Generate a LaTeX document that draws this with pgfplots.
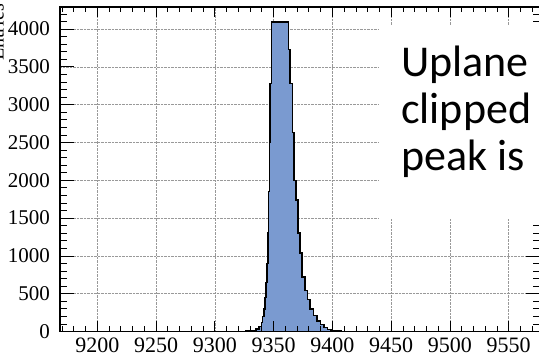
\documentclass[border=0pt]{standalone}
\usepackage{pgfplots}
\usepackage{pgfplotstable}
\pgfplotsset{compat=1.18}
\usepackage{fontspec}
\setmainfont{Liberation Serif}
\newfontfamily\calibri{Carlito}
\definecolor{histblue}{RGB}{122,154,208}
\pgfplotstableread{
x y
9318 0
9326 5
9331 15
9335 35
9337.5 70
9339.5 120
9340.8 200
9341.8 300
9342.6 450
9343.4 650
9344.4 900
9345.4 1300
9345.9 1850
9346.3 2500
9346.8 3280
9348.3 4095
9362.8 3730
9364.1 3280
9366.1 2630
9367.5 2000
9369 1740
9370.9 1300
9372.4 1040
9374.1 720
9376.6 540
9379 420
9381 300
9384 210
9387 140
9390 95
9393 55
9396 30
9399 14
9403 5
9408 0
}\hist
\begin{document}
\begin{tikzpicture}
\pgfplotsset{
  common/.style={
    at={(0,0)}, anchor=south west, scale only axis,
    width=480.4pt, height=324.5pt,
    xmin=9168.3, xmax=9577, ymin=0, ymax=4291,
    /pgf/number format/assume math mode=true,
    /pgf/number format/1000 sep={},
    scaled ticks=false,
    tick align=inside,
  }
}
\begin{axis}[common,
  xtick={9200,9250,...,9550}, ytick={0,500,...,4000},
  xticklabels={}, yticklabels={},
  major tick length=0pt, minor tick length=0pt,
  grid=major, major grid style={densely dotted, gray!80, line width=0.6pt},
  axis line style={draw=none},
]
\addplot[const plot mark left, fill=histblue, draw=none] table[x=x,y=y] {\hist} \closedcycle;
\addplot[const plot mark left, draw=black, line width=1.4pt, line join=miter] table[x=x,y=y] {\hist};
\end{axis}
\begin{axis}[common,
  xtick={9200,9250,...,9550},
  minor xtick={9170,9180,...,9570},
  ytick=\empty,
  xtick pos=both,
  major tick length=10pt, minor tick length=5pt,
  xticklabel={\fontsize{22}{22}\selectfont\pgfmathprintnumber[assume math mode=true]{\tick}},
  xticklabel style={inner sep=0pt, yshift=-6pt},
  axis line style={line width=1.1pt},
  every tick/.style={black, line width=0.7pt},
]
\end{axis}
\begin{axis}[common,
  xtick=\empty,
  ytick={0,500,...,4000},
  minor ytick={100,200,...,4200},
  ytick pos=both,
  major tick length=14pt, minor tick length=7pt,
  yticklabel={\fontsize{21}{21}\selectfont\pgfmathprintnumber[assume math mode=true]{\tick}},
  yticklabel style={inner sep=0pt, xshift=-10pt},
  axis line style={draw=none},
  every tick/.style={black, line width=0.7pt},
]
\end{axis}
\fill[white] (319pt,112.5pt) rectangle (490pt,305.5pt);
\node[anchor=base west, inner sep=0pt, font=\calibri\fontsize{44}{47}\selectfont] at (341pt,254.5pt) {Uplane};
\node[anchor=base west, inner sep=0pt, font=\calibri\fontsize{44}{47}\selectfont] at (341pt,207.5pt) {clipped};
\node[anchor=base west, inner sep=0pt, font=\calibri\fontsize{44}{47}\selectfont] at (341pt,160.5pt) {peak is};
\node[rotate=90, anchor=base east, inner sep=0pt, font=\fontsize{20}{20}\selectfont] at (-56.5pt,327.5pt) {Entries};
\pgfresetboundingbox
\useasboundingbox (-60pt,-26.5pt) rectangle (479pt,331.5pt);
\end{tikzpicture}
\end{document}
